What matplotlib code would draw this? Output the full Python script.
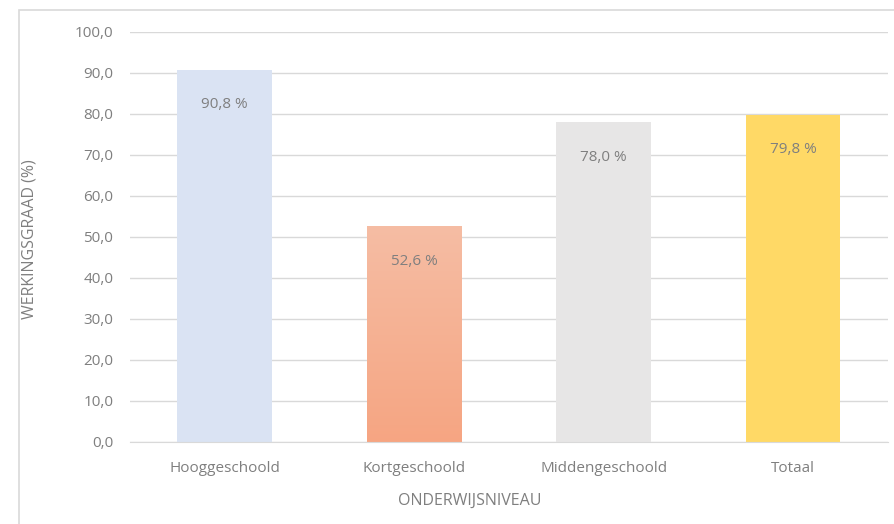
import matplotlib.pyplot as plt
import numpy as np
from matplotlib.patches import Rectangle

niveaus = ["Hooggeschoold", "Kortgeschoold", "Middengeschoold", "Totaal"]
werkingsgraad = [90.8, 52.6, 78.0, 79.8]
kleuren = ["#DAE3F3", None, "#E7E6E6", "#FFD966"]

plt.rcParams['font.family'] = ['Open Sans', 'DejaVu Sans']
grijs = "#7F7F7F"

fig = plt.figure(figsize=(8.95, 5.24), dpi=100)
ax = fig.add_axes([0.1453, 0.1565, 0.8467, 0.7825])

# kader rond de figuur
fig.patches.append(Rectangle((19 / 895, -0.1), 1.2, 1 - 10 / 524 + 0.1, transform=fig.transFigure,
                             fill=False, edgecolor="#D9D9D9", linewidth=1.2))

x = np.arange(len(niveaus))
breedte = 0.5
for i, (v, k) in enumerate(zip(werkingsgraad, kleuren)):
    if k is None:
        # verloop van licht (boven) naar donker (onder)
        grad = np.linspace(0, 1, 256).reshape(-1, 1)
        top = np.array([0.961, 0.741, 0.643])
        bot = np.array([0.965, 0.647, 0.510])
        img = top + (bot - top) * grad[:, :, None] * np.ones((1, 1, 3))
        ax.imshow(img, extent=[i - breedte / 2, i + breedte / 2, -0.5, v], aspect="auto", zorder=2)
    else:
        ax.bar(i, v, width=breedte, color=k, zorder=2)
    ax.text(i, v - 8.5, f"{v:.1f} %".replace(".", ","), ha="center", va="center",
            fontsize=11, color=grijs, zorder=3)

ax.set_xlim(-0.5, len(niveaus) - 0.5)
ax.set_ylim(0, 100)
ax.set_yticks(np.arange(0, 101, 10))
ax.set_yticklabels([f"{t:.1f}".replace(".", ",") for t in np.arange(0, 101, 10)])
ax.set_xticks(x)
ax.set_xticklabels(niveaus)
ax.grid(axis="y", color="#D9D9D9", linewidth=1, zorder=0)
ax.set_axisbelow(True)
for s in ["top", "right", "left"]:
    ax.spines[s].set_visible(False)
ax.spines["bottom"].set_color("#D9D9D9")
ax.spines["bottom"].set_zorder(4)
ax.tick_params(axis="both", length=0, labelsize=11, labelcolor=grijs)
ax.tick_params(axis="x", pad=14)
ax.tick_params(axis="y", pad=12)

ax.set_ylabel("WERKINGSGRAAD (%)", fontsize=11.5, color=grijs)
ax.set_xlabel("ONDERWIJSNIVEAU", fontsize=11.5, color=grijs)
ax.yaxis.set_label_coords(-0.122, 0.495)
ax.xaxis.set_label_coords(0.4485, -0.124)

fig.savefig("out.png", dpi=100)
